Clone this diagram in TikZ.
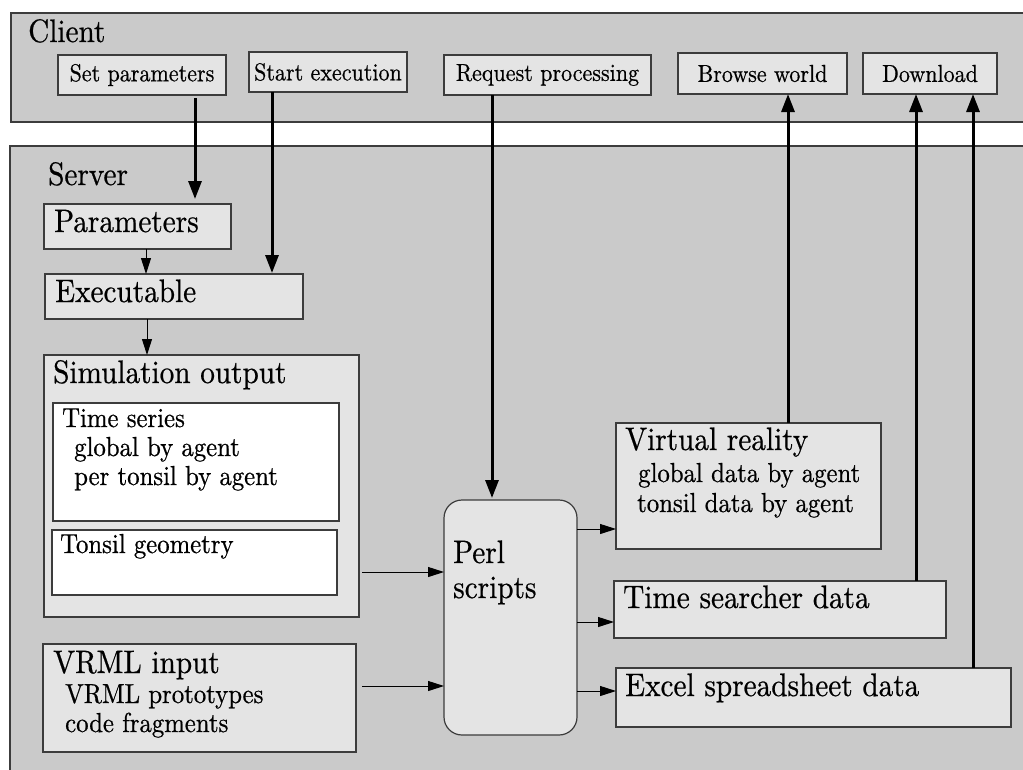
\documentclass[tikz,border=0pt]{standalone}
\usepackage{fontspec}
\setmainfont{lmroman10-regular}[Extension=.otf, FakeStretch=0.9, FakeBold=0.6]
\usetikzlibrary{arrows.meta}
\definecolor{panel}{RGB}{202,202,202}
\definecolor{boxfill}{RGB}{228,228,228}
\definecolor{edge}{RGB}{60,60,60}
\tikzset{
  panelbox/.style={draw=edge, line width=1.2pt, fill=panel},
  box/.style={draw=edge, line width=1.2pt, fill=boxfill, inner sep=0pt, outer sep=0pt},
  wbox/.style={box, fill=white},
  cbtn/.style={box, font=\fontsize{24.5}{29}\selectfont},
  big/.style={font=\fontsize{32.5}{38}\selectfont, anchor=base west, inner sep=0pt},
  mid/.style={font=\fontsize{27.5}{32}\selectfont, anchor=base west, inner sep=0pt},
  thickarrow/.style={line width=3pt, -{Triangle[length=18pt,width=13pt]}},
  thinarrow/.style={line width=1pt, -{Triangle[length=16pt,width=10pt]}},
}
\begin{document}
\begin{tikzpicture}[x=1pt,y=-1pt]
\useasboundingbox (0,0) rectangle (1023,769);
\fill[white] (0,0) rectangle (1023,769);
% panels
\draw[panelbox] (11,13) rectangle (1040,122);
\draw[panelbox] (10,146) rectangle (1040,790);
\node[big] (clientlbl) at (28,42) {Client};
\node[big] (serverlbl) at (48,185) {Server};
% client buttons
\node[cbtn, minimum width=168pt, minimum height=40pt] (setp) at (142,75) {Set parameters};
\node[cbtn, minimum width=158pt, minimum height=40pt] (startx) at (328,72) {Start execution};
\node[cbtn, minimum width=207pt, minimum height=40pt] (reqp) at (547.5,75) {Request processing};
\node[cbtn, minimum width=169pt, minimum height=41pt] (browse) at (762.5,73.5) {Browse world};
\node[cbtn, minimum width=134pt, minimum height=41pt] (down) at (930,73.5) {Download};
% server boxes
\node[box, minimum width=187pt, minimum height=45pt] (params) at (137.5,226.5) {};
\node[big] (paramslbl) at (54,232) {Parameters};
\node[box, minimum width=258pt, minimum height=45pt] (exec) at (174,296.5) {};
\node[big] (execlbl) at (55,302) {Executable};
\node[box, minimum width=315pt, minimum height=262pt] (simout) at (201.5,486) {};
\node[big] (simoutlbl) at (53,383) {Simulation output};
\node[wbox, minimum width=286pt, minimum height=118pt] (tseries) at (196,462) {};
\node[mid] (ts1) at (62,427) {Time series};
\node[mid] (ts2) at (74,456) {global by agent};
\node[mid] (ts3) at (74,485) {per tonsil by agent};
\node[wbox, minimum width=285pt, minimum height=65pt] (tgeom) at (194.5,562.5) {};
\node[mid] (tg1) at (60,553) {Tonsil geometry};
\node[box, minimum width=313pt, minimum height=108pt] (vrml) at (199.5,698) {};
\node[big] (vr1) at (53,673) {VRML input};
\node[mid] (vr2) at (65,703) {VRML prototypes};
\node[mid] (vr3) at (65,732) {code fragments};
\node[box, rounded corners=18pt, minimum width=133pt, minimum height=235pt] (perl) at (510.5,617.5) {};
\node[big] (perl1) at (453,563) {Perl};
\node[big] (perl2) at (453,598) {scripts};
\node[box, minimum width=265pt, minimum height=126pt] (vreal) at (748.5,486) {};
\node[big] (vrl1) at (625,450) {Virtual reality};
\node[mid] (vrl2) at (638,482) {global data by agent};
\node[mid] (vrl3) at (637,512) {tonsil data by agent};
\node[box, minimum width=332pt, minimum height=57pt] (tsd) at (780,609.5) {};
\node[big] (tsdlbl) at (623,608) {Time searcher data};
\node[box, minimum width=395pt, minimum height=59pt] (excel) at (813.5,697.5) {};
\node[big] (excellbl) at (625,696) {Excel spreadsheet data};
% connector columns/rows
\coordinate (xa) at (195,0);
\coordinate (xb) at (272,0);
\coordinate (xc) at (492,0);
\coordinate (xd) at (146,0);
\coordinate (xe) at (147,0);
\coordinate (xf) at (788,0);
\coordinate (xg) at (916,0);
\coordinate (xh) at (973,0);
\coordinate (ya) at (0,572);
\coordinate (yb) at (0,686);
\coordinate (yc) at (0,529);
\coordinate (yd) at (0,622);
\coordinate (ye) at (0,691);
% client -> server
\draw[thickarrow, shorten <=3pt, shorten >=5pt] (xa |- setp.south) -- (xa |- params.north);
\draw[thickarrow, shorten >=1pt] (xb |- startx.south) -- (xb |- exec.north);
\draw[thickarrow, shorten >=2pt] (xc |- reqp.south) -- (xc |- perl.north);
% server internal
\draw[thinarrow] (xd |- params.south) -- (xd |- exec.north);
\draw[thinarrow] (xe |- exec.south) -- (xe |- simout.north);
\draw[thinarrow, shorten <=3pt] (simout.east |- ya) -- (perl.west |- ya);
\draw[thinarrow, shorten <=6pt] (vrml.east |- yb) -- (perl.west |- yb);
\draw[thinarrow] (perl.east |- yc) -- (vreal.west |- yc);
\draw[thinarrow] (perl.east |- yd) -- (tsd.west |- yd);
\draw[thinarrow] (perl.east |- ye) -- (excel.west |- ye);
% server -> client
\draw[thickarrow] (xf |- vreal.north) -- (xf |- browse.south);
\draw[thickarrow] (xg |- tsd.north) -- (xg |- down.south);
\draw[thickarrow] (xh |- excel.north) -- (xh |- down.south);
\end{tikzpicture}
\end{document}
